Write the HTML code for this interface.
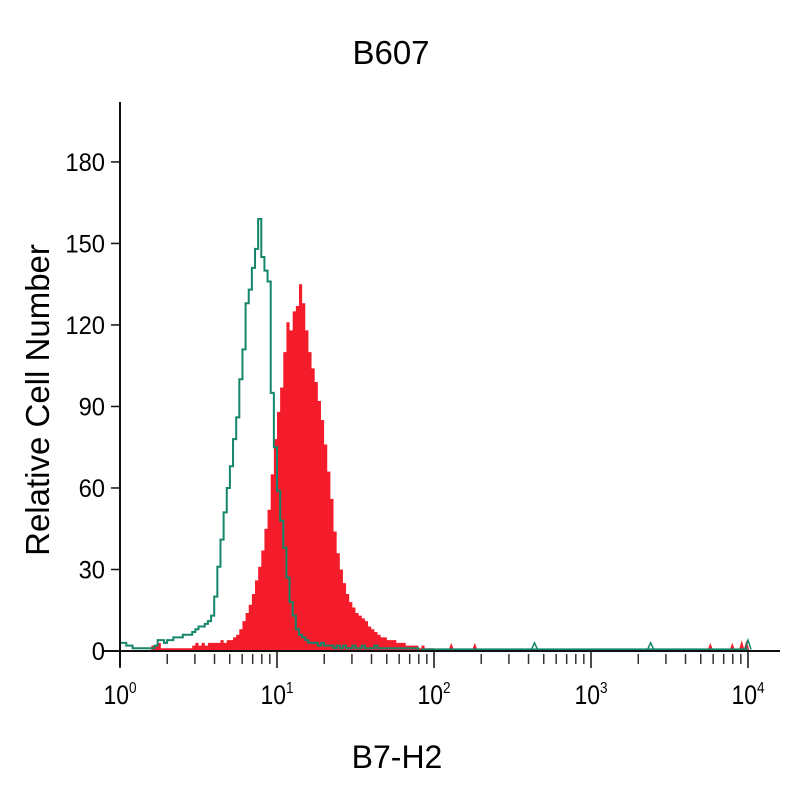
<!DOCTYPE html>
<html><head><meta charset="utf-8"><style>
html,body{margin:0;padding:0;background:#fff;}
svg{display:block;font-family:"Liberation Sans",sans-serif;}
</style></head><body>
<svg id="chart" width="800" height="800" viewBox="0 0 800 800">
<text x="391" y="64" font-size="33" text-anchor="middle">B607</text>
<text x="397" y="768" font-size="32" text-anchor="middle">B7-H2</text>
<text transform="translate(49,400) rotate(-90)" font-size="33" text-anchor="middle">Relative Cell Number</text>
<g id="plot"></g>
</svg>
<script>
// bins: 50 per decade, starting at 10^0
const binsPerDecade = 50;
const greenCounts = [3,3,2,2,1,1,1,1,1,1,1,2,4,4,3,4,4,5,5,5,6,6,6,7,8,9,9,10,11,13,20,31,41,51,60,68,78,86,100,111,128,133,141,148,159,145,140,136,95,75,59,48,38,27,18,13,8,6,5,4,3,3,3,2,3,2,2,2,1,2,1,2,1,1,2,1,1,2,1,1,1,2,1,1,1,1,1,1,1,1,1,1,1,1,1,0];
const redCounts = [0,0,0,0,0,0,0,0,0,0,2,2,3,1,1,1,1,1,1,1,1,1,1,2,3,2,3,2,3,3,3,3,4,3,4,4,5,6,8,11,14,17,21,26,31,37,45,52,65,78,88,97,110,121,118,125,127,135,128,118,110,104,99,92,85,76,66,56,44,36,30,25,21,18,16,14,13,12,11,9,8,7,6,5,5,4,4,4,3,3,3,2,2,2,2,1,2,1,1,1,0];
const redSpikeDecades = [2.11,2.26,3.76,3.9,3.96,3.99];
const redSpikeValues = [3,3,3,3,4,4];
const greenSpikeDecades = [2.64,3.38,4.0];
const greenSpikeValues = [3,3,4];
const yTicks = [0,30,60,90,120,150,180];
const xDecades = [0,1,2,3,4];

const x0=120, decadePx=157, y0=651, yPerUnit=2.717;
const xScale = d => x0 + d*decadePx;
const yScale = v => y0 - v*yPerUnit;
const NS="http://www.w3.org/2000/svg";
const plot=document.getElementById('plot');
function mk(tag,attrs){const e=document.createElementNS(NS,tag);for(const k in attrs)e.setAttribute(k,attrs[k]);return e;}

function stepPath(counts){
  let d='M'+xScale(0)+','+yScale(0);
  counts.forEach((c,i)=>{
    const xa=xScale(i/binsPerDecade), xb=xScale((i+1)/binsPerDecade);
    d+=' L'+xa+','+yScale(c)+' L'+xb+','+yScale(c);
  });
  return d;
}
const redPath=mk('path',{d:stepPath(redCounts)+' L'+xScale(redCounts.length/binsPerDecade)+','+yScale(0)+' Z',fill:'#f41c2a',stroke:'none'});


plot.appendChild(redPath);
redSpikeDecades.forEach((d,i)=>{
  const xc=xScale(d);
  const p=mk('path',{d:'M'+(xc-3)+','+y0+' L'+xc+','+yScale(redSpikeValues[i])+' L'+(xc+3)+','+y0+' Z',fill:'#f41c2a'});
  
  
  plot.appendChild(p);
});
let gd=stepPath(greenCounts)+' L'+xScale(greenCounts.length/binsPerDecade)+','+yScale(0.5);
const greenPath=mk('path',{d:gd,fill:'none',stroke:'#14866a','stroke-width':2});


plot.appendChild(greenPath);
const gBase=mk('line',{x1:xScale(greenCounts.length/binsPerDecade),y1:yScale(0.6),x2:xScale(4),y2:yScale(0.6),stroke:'#14866a','stroke-width':2});


plot.appendChild(gBase);
greenSpikeDecades.forEach((d,i)=>{
  const xc=xScale(d);
  const p=mk('path',{d:'M'+(xc-3)+','+yScale(0.6)+' L'+xc+','+yScale(greenSpikeValues[i])+' L'+(xc+3)+','+yScale(0.6),fill:'none',stroke:'#14866a','stroke-width':1.5});
  
  
  plot.appendChild(p);
});
const yAxis=mk('line',{x1:x0,y1:102,x2:x0,y2:667,stroke:'#111','stroke-width':2});


plot.appendChild(yAxis);
const xAxis=mk('line',{x1:103,y1:y0,x2:780,y2:y0,stroke:'#111','stroke-width':2});


plot.appendChild(xAxis);
yTicks.forEach(v=>{
  const y=yScale(v);
  const t=mk('line',{x1:111,y1:y,x2:x0,y2:y,stroke:'#111','stroke-width':1.5});
  
  
  plot.appendChild(t);
  const l=mk('text',{x:0,y:0,'font-size':25,'text-anchor':'end',transform:'translate(105,'+(y+9)+') scale(0.95,1)'});
  l.textContent=v;
  
  
  plot.appendChild(l);
});
xDecades.forEach(d=>{
  const x=xScale(d);
  const t=mk('line',{x1:x,y1:y0,x2:x,y2:668,stroke:'#111','stroke-width':1.5});
  
  
  plot.appendChild(t);
  const l=mk('text',{x:0,y:0,'font-size':27,'text-anchor':'middle',transform:'translate('+x+',704) scale(0.85,1)'});
  l.innerHTML='10<tspan dy="-11" font-size="16">'+d+'</tspan>';
  
  
  plot.appendChild(l);
  if(d<4){
    for(let m=2;m<=9;m++){
      const xm=xScale(d+Math.log10(m));
      const mt=mk('line',{x1:xm,y1:y0+3,x2:xm,y2:664,stroke:'#333','stroke-width':1.5});
      
      
      plot.appendChild(mt);
    }
  }
});
</script>
</body></html>
